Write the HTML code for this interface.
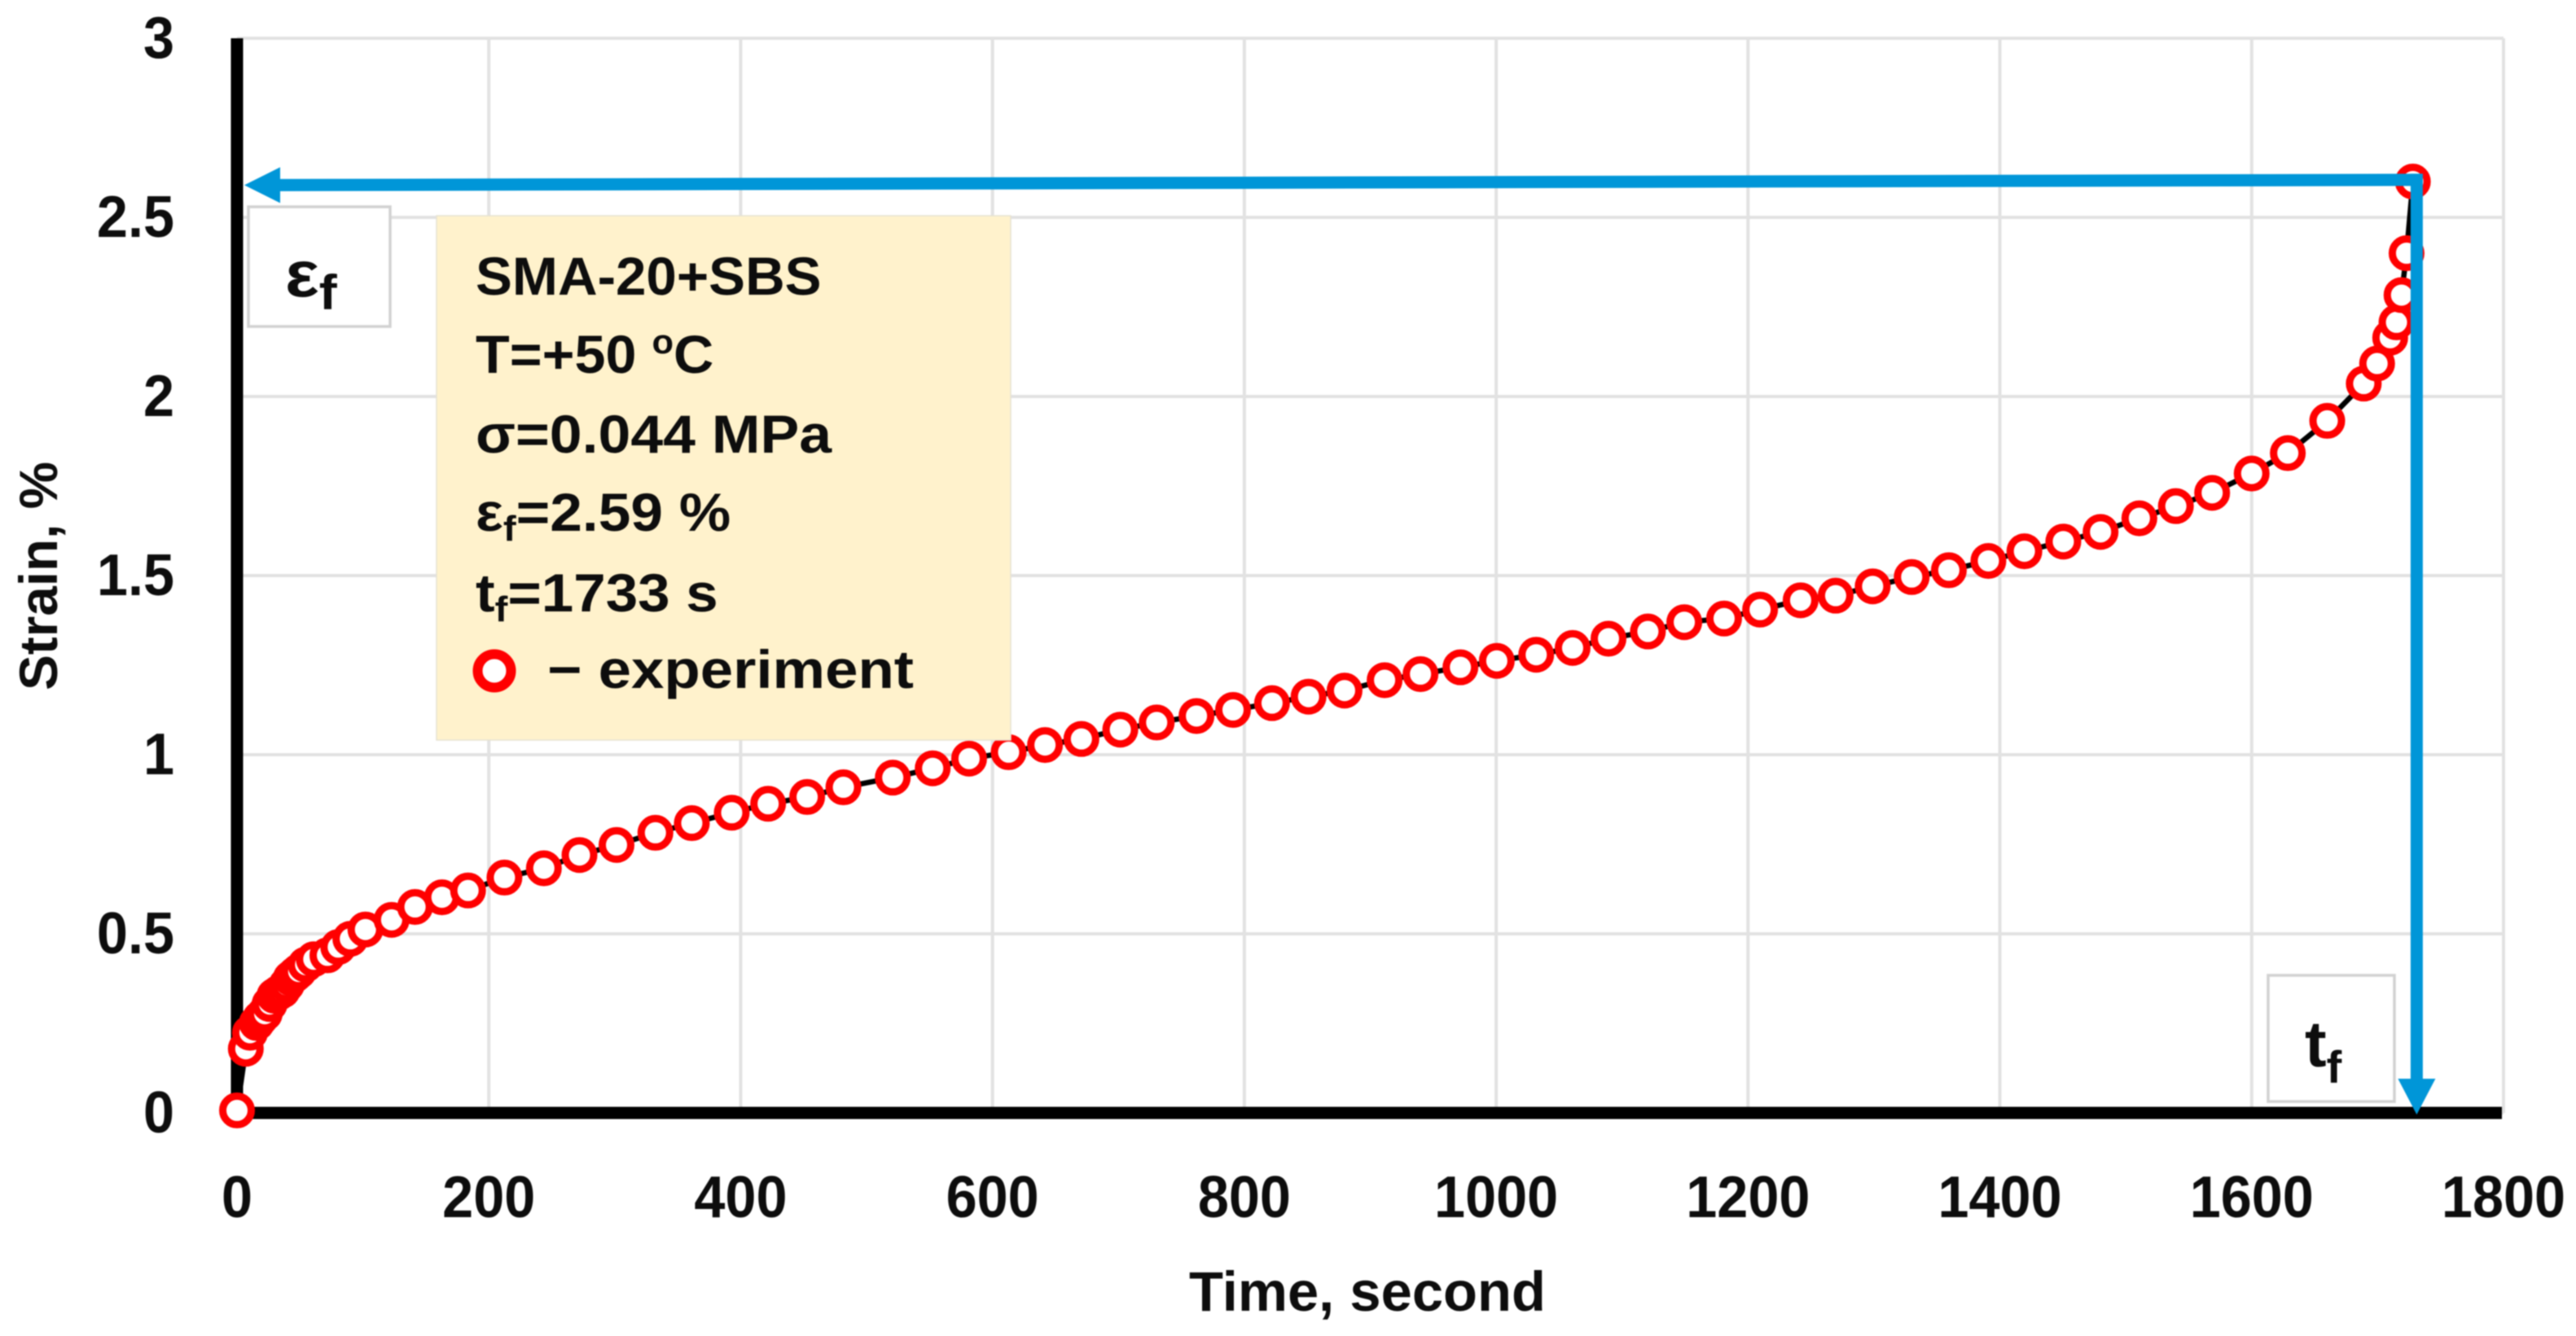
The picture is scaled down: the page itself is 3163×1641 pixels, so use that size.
<!DOCTYPE html>
<html lang="en">
<head>
<meta charset="utf-8">
<title>Strain vs time creep curve</title>
<style>
html,body{margin:0;padding:0;background:#fff;width:3163px;height:1641px;overflow:hidden}
svg{display:block;filter:blur(.8px)}
text{font-family:"Liberation Sans",sans-serif;font-weight:700;fill:#0d0d0d}
</style>
</head>
<body>
<svg id="chart" xmlns="http://www.w3.org/2000/svg" width="3163" height="1641" viewBox="0 0 3163 1641">
  <rect x="0" y="0" width="3163" height="1641" fill="#ffffff"/>
  <g id="grid"></g>
  <g id="series"></g>
  <g id="axes"></g>
  <g id="ticks"></g>
  <g id="markers"></g>

  <text x="1460" y="1610" font-size="69" textLength="438" lengthAdjust="spacingAndGlyphs">Time, second</text>
  <text transform="translate(70,848) rotate(-90)" font-size="66" textLength="281" lengthAdjust="spacingAndGlyphs">Strain, %</text>

  <g>
    <rect x="536" y="265" width="705" height="644" fill="#fff2cc" stroke="#e6e2d2" stroke-width="1.5"/>
    <text transform="translate(584,362) scale(1.02,1)" font-size="66">SMA-20+SBS</text>
    <text transform="translate(584,458) scale(1.035,1)" font-size="66">T=+50 <tspan font-size="42" dy="-24">o</tspan><tspan dy="24">C</tspan></text>
    <text transform="translate(584,556) scale(1.085,1)" font-size="66">σ=0.044 MPa</text>
    <text transform="translate(584,652) scale(1.08,1)" font-size="66">ε<tspan font-size="44" dy="12">f</tspan><tspan dy="-12">=2.59 %</tspan></text>
    <text transform="translate(584,751) scale(1.075,1)" font-size="66">t<tspan font-size="44" dy="12">f</tspan><tspan dy="-12">=1733 s</tspan></text>
    <circle cx="607" cy="824" r="20.5" fill="#ffffff" stroke="#ff0000" stroke-width="12"/>
    <text x="672" y="845" font-size="66" textLength="450" lengthAdjust="spacingAndGlyphs">− experiment</text>
  </g>

  <g>
    <rect x="305" y="254" width="174" height="147" fill="#ffffff" stroke="#d2d2d2" stroke-width="3.5"/>
    <text transform="translate(350,364) scale(1.1,1)" font-size="80">ε<tspan font-size="60" dy="16">f</tspan></text>
  </g>
  <g>
    <rect x="2785" y="1198" width="155" height="155" fill="#ffffff" stroke="#d2d2d2" stroke-width="3.5"/>
    <text x="2830" y="1310" font-size="80">t<tspan font-size="56" dy="20">f</tspan></text>
  </g>
  <g id="arrows"></g>
</svg>
<script>
const times = [0,7,10.3,15.7,18.5,22,25.9,29.7,33,36.2,39.5,42.7,46,49,54.5,61,71.8,80.4,90,102,122.8,141.4,162.8,183.5,212.4,243.7,272,301.4,332.3,361.2,392.9,421.8,452.8,481.6,520.8,552.5,581.4,612.8,641.7,670.6,701.5,730.4,762,791,822,851,879.6,911.4,939.9,971.6,1000.5,1031.8,1060.7,1089.2,1120.5,1149.4,1181,1209.6,1241.8,1269.6,1299,1330,1359.5,1390.9,1419.5,1450.4,1480,1510.8,1539.8,1568.6,1600,1628.7,1660,1689,1699.6,1710,1715,1719,1723,1728];
const strains = [0.007,0.179,0.224,0.251,0.264,0.277,0.304,0.327,0.335,0.342,0.358,0.376,0.386,0.395,0.414,0.429,0.44,0.463,0.486,0.512,0.539,0.575,0.602,0.621,0.657,0.683,0.72,0.748,0.782,0.809,0.838,0.863,0.882,0.909,0.936,0.962,0.989,1.007,1.027,1.044,1.07,1.09,1.108,1.125,1.144,1.162,1.179,1.208,1.225,1.244,1.262,1.279,1.298,1.324,1.344,1.37,1.38,1.405,1.431,1.444,1.47,1.496,1.515,1.541,1.568,1.595,1.622,1.66,1.694,1.731,1.785,1.842,1.932,2.036,2.092,2.164,2.207,2.283,2.40,2.60];
const xTickValues = [0,200,400,600,800,1000,1200,1400,1600,1800];
const yTickValues = [0,0.5,1,1.5,2,2.5,3];
const yTickLabels = ["0","0.5","1","1.5","2","2.5","3"];
const failureTime = [1733];
const failureStrain = [2.59];

const NS = "http://www.w3.org/2000/svg";
const xScale = t => 291 + t * (3074 - 291) / 1800;
const yScale = s => 1367 - s * (1367 - 47) / 3;
function make(tag, parentId, attrs) {
  const node = document.createElementNS(NS, tag);
  for (const k in attrs) node.setAttribute(k, attrs[k]);
  document.getElementById(parentId).appendChild(node);
  return node;
}

xTickValues.forEach(v => {
  const el = make("line", "grid", {x1: xScale(v), x2: xScale(v), y1: yScale(3), y2: yScale(0), stroke: "#e2e2e2", "stroke-width": 4});
  
  
});
yTickValues.forEach(v => {
  const el = make("line", "grid", {x1: xScale(0), x2: xScale(1800), y1: yScale(v), y2: yScale(v), stroke: "#e2e2e2", "stroke-width": 4});
  
  
});

const seriesLine = make("polyline", "series", {points: times.map((t, i) => xScale(t) + "," + yScale(strains[i])).join(" "), fill: "none", stroke: "#000000", "stroke-width": 6.5});



const yAxis = make("line", "axes", {x1: xScale(0), x2: xScale(0), y1: yScale(3), y2: yScale(0) + 8, stroke: "#000000", "stroke-width": 15});


const xAxis = make("line", "axes", {x1: xScale(0), x2: xScale(1800) - 2, y1: yScale(0), y2: yScale(0), stroke: "#000000", "stroke-width": 15});



xTickValues.forEach(v => {
  const el = make("text", "ticks", {transform: "translate(" + xScale(v) + ",1495) scale(.95,1)", "text-anchor": "middle", "font-size": 72});
  el.textContent = String(v);
  
  
});
yTickValues.forEach((v, i) => {
  const el = make("text", "ticks", {transform: "translate(214," + (yScale(v) + 24) + ") scale(.95,1)", "text-anchor": "end", "font-size": 72});
  el.textContent = yTickLabels[i];
  
  
});

times.forEach((t, i) => {
  const el = make("circle", "markers", {cx: xScale(t), cy: yScale(strains[i]), r: 17.5, fill: "#ffffff", stroke: "#ff0000", "stroke-width": 9});
  
  
});

const ax = xScale(failureTime[0]) - 3;
const ay = yScale(failureStrain[0]);
const hShaft = make("polygon", "arrows", {points: [[336, ay - 7.5], [ax + 7, ay - 14], [ax + 7, ay + 1], [336, ay + 7.5]].map(p => p.join(",")).join(" "), fill: "#0096d8"});


const hHead = make("polygon", "arrows", {points: [[300, ay], [344, ay - 22], [344, ay + 22]].map(p => p.join(",")).join(" "), fill: "#0096d8"});


const vShaft = make("rect", "arrows", {x: ax - 7.5, y: ay - 14, width: 15, height: 1340 - ay + 14, fill: "#0096d8"});


const vHead = make("polygon", "arrows", {points: [[ax, 1369], [ax - 23, 1325], [ax + 23, 1325]].map(p => p.join(",")).join(" "), fill: "#0096d8"});


</script>
</body>
</html>
